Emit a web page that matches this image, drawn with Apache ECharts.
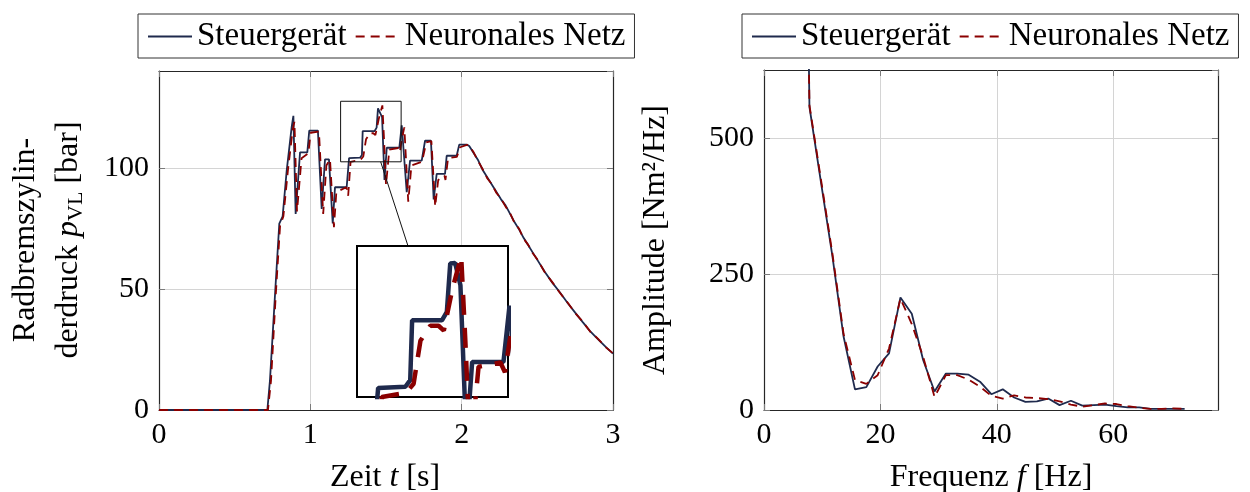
<!DOCTYPE html>
<html>
<head>
<meta charset="utf-8">
<script src="https://cdn.jsdelivr.net/npm/echarts@6/dist/echarts.min.js"></script>
<style>
  html, body { margin: 0; padding: 0; background: #fff; }
  #chart { width: 1250px; height: 492px; }
</style>
</head>
<body>
<div id="chart"></div>
<script>
// Brake cylinder pressure over time: control unit vs. neural network
const tEcu = [0, 0.716, 0.733, 0.767, 0.795, 0.817, 0.844, 0.877, 0.888, 0.903,
  0.932, 0.98, 0.993, 1.05, 1.075, 1.097, 1.123, 1.148, 1.163, 1.24,
  1.256, 1.328, 1.341, 1.346, 1.425, 1.438, 1.447, 1.46, 1.474, 1.49,
  1.505, 1.588, 1.604, 1.637, 1.659, 1.736, 1.758, 1.797, 1.815, 1.835,
  1.89, 1.901, 1.967, 1.984, 2.033, 2.05, 2.08, 2.11, 2.14, 2.17,
  2.2, 2.23, 2.26, 2.29, 2.32, 2.35, 2.38, 2.41, 2.44, 2.47,
  2.5, 2.55, 2.6, 2.65, 2.7, 2.75, 2.8, 2.85, 2.9, 2.95, 3.0];
const pEcu = [0, 0, 12, 48, 77, 80, 99, 117, 121.5, 81,
  106.4, 106.4, 115.4, 115.4, 83, 103.5, 103.5, 77, 92, 92,
  104, 104.2, 105.3, 115.2, 115.2, 116.6, 124.6, 124.7, 121, 95,
  108.3, 108.3, 117.6, 90, 103, 103, 111.2, 111.2, 87, 97.5,
  97.5, 105, 105, 109.6, 109.6, 109, 106, 103, 99, 96,
  93, 90, 87, 84.5, 81, 77.5, 74.5, 71, 68, 65,
  62, 57, 52.5, 48.5, 44.2, 40.2, 36.3, 32.5, 29.3, 26.2, 23.3];

const tNet = [0, 0.72, 0.74, 0.772, 0.80, 0.822, 0.852, 0.884, 0.895, 0.912,
  0.942, 0.987, 1.002, 1.057, 1.085, 1.106, 1.13, 1.156, 1.172, 1.238,
  1.25, 1.266, 1.33, 1.35, 1.368, 1.394, 1.416, 1.43, 1.452, 1.476,
  1.487, 1.50, 1.522, 1.58, 1.592, 1.605, 1.621, 1.647, 1.668, 1.738,
  1.75, 1.766, 1.80, 1.825, 1.845, 1.886, 1.893, 1.91, 1.968, 1.99,
  2.035, 2.05, 2.08, 2.11, 2.14, 2.17, 2.2, 2.23, 2.26, 2.29,
  2.32, 2.35, 2.38, 2.41, 2.44, 2.47, 2.5, 2.55, 2.6, 2.65,
  2.7, 2.75, 2.8, 2.85, 2.9, 2.95, 3.0];
const pNet = [0, 0, 12, 48, 76, 80, 99, 116, 119, 82,
  104, 106, 114.5, 115, 81, 101, 103.5, 75.5, 90, 92,
  88.5, 102.5, 103.2, 104.7, 111.8, 114.3, 114.3, 113.5, 120.2, 125.8,
  111.8, 93, 107.5, 108.2, 106.6, 112, 116.7, 86, 101, 102.5,
  101.8, 110.5, 111, 84, 95, 96.8, 95, 104, 104.5, 108.5,
  109.5, 109.2, 106.3, 102.6, 99.3, 95.6, 93.2, 89.6, 87.3, 84,
  81.3, 77.2, 74.8, 70.7, 68.2, 64.7, 62.2, 56.8, 52.7, 48.3,
  44.4, 40, 36.5, 32.3, 29.5, 26, 23.4];

// Amplitude spectrum
const freqHz = [5.86, 7.81, 9.77, 11.72, 13.67, 15.63, 17.58, 19.53, 21.48, 23.44,
  25.39, 27.34, 29.30, 31.25, 33.20, 35.16, 37.11, 39.06, 41.02, 42.97,
  44.92, 46.88, 48.83, 50.78, 52.73, 54.69, 56.64, 58.59, 60.55, 62.50,
  64.45, 66.41, 68.36, 70.31, 72.27];
const ampEcu = [2100, 557, 420, 285, 135, 38, 42, 80, 104, 207,
  177, 92, 34, 67, 67, 65, 52, 29, 38, 23,
  15, 16, 21, 9, 17, 8, 9, 10, 7, 5,
  5, 2, 2, 2, 2];
const ampNet = [2050, 560, 425, 290, 140, 55, 48, 64, 113, 205,
  158, 98, 24, 64, 64, 56, 43, 26, 21, 27,
  23, 22, 20, 16, 10, 6, 9, 12, 11, 7,
  4, 2, 2, 3, 2];

// Axis ranges and ticks
const timeRange = [0, 3], timeStep = 1;
const pressRange = [0, 140], pressStep = 50;
const freqRange = [0, 78], freqStep = 20;
const ampRange = [0, 625], ampStep = 250;
// Zoomed window
const zoomTime = [1.2, 1.6];
const zoomPress = [102.5, 127.5];

const seriesNames = ['Steuergerät', 'Neuronales Netz'];

const FONT = 'Liberation Serif';
const NAVY = '#1f2a4d';
const RED = '#8b0000';
const FRAME = '#262626';

const pairs = (xs, ys) => xs.map((x, i) => [x, ys[i]]);

function mainAxis(pos, range, step, gridIndex, labels, showMax) {
  return {
    type: 'value', gridIndex, position: pos,
    min: range[0], max: range[1], interval: step,
    axisLine: { show: true, onZero: false, lineStyle: { color: FRAME, width: 1.2 } },
    axisTick: { show: true, inside: true, length: 6, lineStyle: { color: '#7a7a7a', width: 1 } },
    axisLabel: labels ? {
      show: true, showMaxLabel: !!showMax, margin: 10,
      fontFamily: FONT, fontSize: 30, color: '#000'
    } : { show: false },
    splitLine: labels ? { show: true, lineStyle: { color: '#d4d4d4', width: 1 } } : { show: false }
  };
}

function hiddenAxis(range, gridIndex) {
  return {
    type: 'value', gridIndex, min: range[0], max: range[1],
    axisLine: { show: false }, axisTick: { show: false },
    axisLabel: { show: false }, splitLine: { show: false }, z: 11
  };
}

const lineSolid = { color: NAVY, width: 1.8 };
const lineDash = { color: RED, width: 1.8, type: [9, 6] };

const legendBase = {
  orient: 'horizontal', top: 14,
  borderColor: '#333', borderWidth: 1, borderRadius: 0,
  padding: [6, 9, 5, 9], itemGap: 8, itemWidth: 44, itemHeight: 14,
  itemStyle: { opacity: 0 },
  textStyle: { fontFamily: FONT, fontSize: 33, color: '#000' },
  data: seriesNames
};

function lineSeries(i, xIdx, xs, ys, style, z) {
  const color = style.color;
  return {
    name: seriesNames[i], type: 'line', xAxisIndex: xIdx, yAxisIndex: xIdx,
    data: pairs(xs, ys), showSymbol: false, symbol: 'none',
    itemStyle: { color }, lineStyle: style, z
  };
}

const option = {
  animation: false,
  backgroundColor: '#fff',
  grid: [
    { left: 159, top: 71, width: 454, height: 339 },
    { left: 764, top: 70, width: 454, height: 340 },
    { left: 357, top: 246, width: 151, height: 151, show: true, z: 10,
      backgroundColor: '#fff', borderColor: '#000', borderWidth: 2 }
  ],
  legend: [
    Object.assign({ left: 138 }, legendBase),
    Object.assign({ left: 742 }, legendBase)
  ],
  xAxis: [
    mainAxis('bottom', timeRange, timeStep, 0, true, true),
    mainAxis('top', timeRange, timeStep, 0, false),
    mainAxis('bottom', freqRange, freqStep, 1, true, false),
    mainAxis('top', freqRange, freqStep, 1, false),
    hiddenAxis(zoomTime, 2)
  ],
  yAxis: [
    mainAxis('left', pressRange, pressStep, 0, true, false),
    mainAxis('right', pressRange, pressStep, 0, false),
    mainAxis('left', ampRange, ampStep, 1, true, false),
    mainAxis('right', ampRange, ampStep, 1, false),
    hiddenAxis(zoomPress, 2)
  ],
  series: [
    lineSeries(0, 0, tEcu, pEcu, lineSolid, 3),
    lineSeries(1, 0, tNet, pNet, lineDash, 3),
    lineSeries(0, 2, freqHz, ampEcu, lineSolid, 3),
    lineSeries(1, 2, freqHz, ampNet, lineDash, 3),
    lineSeries(0, 4, tEcu, pEcu, { color: NAVY, width: 4.5 }, 11),
    lineSeries(1, 4, tNet, pNet, { color: RED, width: 4.5, type: [20, 13] }, 11)
  ]
};

const chart = echarts.init(document.getElementById('chart'), null, { renderer: 'canvas' });
chart.setOption(option);

// Axis titles
const titleFont = '32px "' + FONT + '"';
const rich = {
  i: { fontFamily: FONT, fontSize: 32, fontStyle: 'italic', color: '#000' },
  s: { fontFamily: FONT, fontSize: 22, color: '#000', padding: [16, 0, 0, 0] }
};
const centered = { textAlign: 'center', textVerticalAlign: 'middle', align: 'center', verticalAlign: 'middle' };
const graphics = [
  { type: 'text', x: 385, y: 478, z: 20,
    style: Object.assign({ text: 'Zeit {i|t} [s]', rich, font: titleFont, fill: '#000' }, centered) },
  { type: 'text', x: 991, y: 478, z: 20,
    style: Object.assign({ text: 'Frequenz {i|f} [Hz]', rich, font: titleFont, fill: '#000' }, centered) },
  { type: 'text', x: 47, y: 240, rotation: Math.PI / 2, z: 20,
    style: Object.assign({ text: 'Radbremszylin-\nderdruck {i|p}{s|VL} [bar]', rich, font: titleFont,
      fill: '#000', lineHeight: 43 }, centered) },
  { type: 'text', x: 656, y: 240, rotation: Math.PI / 2, z: 20,
    style: Object.assign({ text: 'Amplitude [Nm²/Hz]', font: titleFont, fill: '#000' }, centered) }
];

// Zoom window outline in the main plot and the connector to the magnified view
const a = chart.convertToPixel({ gridIndex: 0 }, [zoomTime[0], zoomPress[1]]);
const b = chart.convertToPixel({ gridIndex: 0 }, [zoomTime[1], zoomPress[0]]);
const ia = chart.convertToPixel({ gridIndex: 2 }, [zoomTime[0], zoomPress[1]]);
const ib = chart.convertToPixel({ gridIndex: 2 }, [zoomTime[1], zoomPress[0]]);
graphics.push({ type: 'rect', z: 6,
  shape: { x: a[0], y: a[1], width: b[0] - a[0], height: b[1] - a[1] },
  style: { fill: null, stroke: '#111', lineWidth: 1 } });

function exitPoint(c, hw, hh, d) {
  const s = Math.min(Math.abs(hw / (d[0] || 1e-9)), Math.abs(hh / (d[1] || 1e-9)));
  return [c[0] + d[0] * s, c[1] + d[1] * s];
}
const c1 = [(a[0] + b[0]) / 2, (a[1] + b[1]) / 2];
const c2 = [(ia[0] + ib[0]) / 2, (ia[1] + ib[1]) / 2];
const dir = [c2[0] - c1[0], c2[1] - c1[1]];
const p1 = exitPoint(c1, (b[0] - a[0]) / 2, (b[1] - a[1]) / 2, dir);
const p2 = exitPoint(c2, (ib[0] - ia[0]) / 2, (ib[1] - ia[1]) / 2, [-dir[0], -dir[1]]);
graphics.push({ type: 'line', z: 6,
  shape: { x1: p1[0], y1: p1[1], x2: p2[0], y2: p2[1] },
  style: { stroke: '#111', lineWidth: 1 } });

chart.setOption({ graphic: graphics });
</script>
</body>
</html>
